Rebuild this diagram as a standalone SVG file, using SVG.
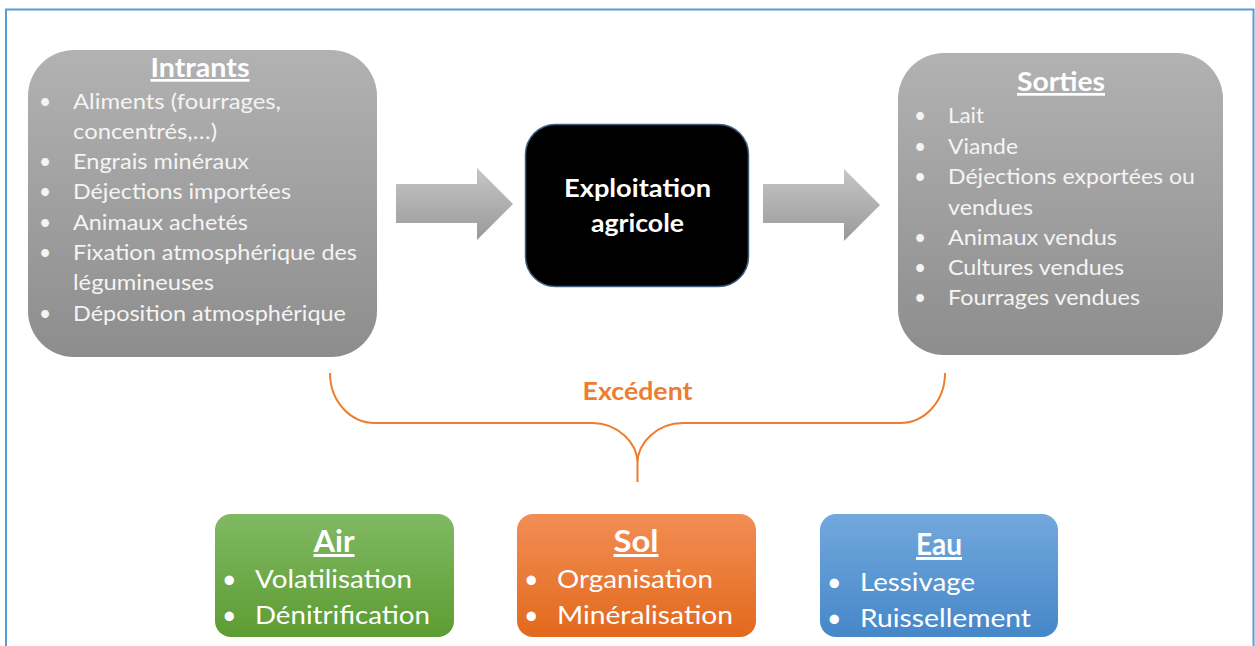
<svg xmlns="http://www.w3.org/2000/svg" width="1255" height="646" viewBox="0 0 1255 646">
<defs>
<linearGradient id="gGray" x1="0" y1="0" x2="0" y2="1"><stop offset="0" stop-color="#b2b2b2"/><stop offset="1" stop-color="#8d8d8d"/></linearGradient>
<linearGradient id="gArrow" x1="0" y1="0" x2="0" y2="1"><stop offset="0" stop-color="#c6c6c6"/><stop offset="1" stop-color="#999999"/></linearGradient>
<linearGradient id="gGreen" x1="0" y1="0" x2="0" y2="1"><stop offset="0" stop-color="#80b963"/><stop offset="1" stop-color="#5d9c32"/></linearGradient>
<linearGradient id="gOrange" x1="0" y1="0" x2="0" y2="1"><stop offset="0" stop-color="#f28e55"/><stop offset="1" stop-color="#e2691c"/></linearGradient>
<linearGradient id="gBlue" x1="0" y1="0" x2="0" y2="1"><stop offset="0" stop-color="#72a8dd"/><stop offset="1" stop-color="#4687c8"/></linearGradient>
<style>
.t{font-family:Lato,"Open Sans","Liberation Sans",sans-serif;fill:#f4f4f4}
.it{font-size:21px}
.ttl{font-size:27px;font-weight:bold;text-decoration:underline;fill:#ffffff}
.bt{font-size:30px;font-weight:bold;text-decoration:underline;fill:#ffffff}
.bi{font-size:25px;fill:#ffffff}
.ctr{font-family:Lato,"Open Sans","Liberation Sans",sans-serif;font-size:25px;font-weight:bold;fill:#ffffff}
.exc{font-family:Lato,"Open Sans","Liberation Sans",sans-serif;font-size:25px;font-weight:bold;fill:#ED7D31}
</style>
</defs>
<rect width="1255" height="646" fill="#ffffff"/>
<rect x="6" y="9.5" width="1247.5" height="700" fill="none" stroke="#5B9BD5" stroke-width="2"/>

<g id="intrants">
<rect x="28" y="50" width="349" height="307" rx="46" fill="url(#gGray)"/>
<text class="t ttl" x="200" y="77" text-anchor="middle" textLength="99" lengthAdjust="spacingAndGlyphs">Intrants</text>
<g class="t it">
<text x="39" y="109">•</text><text x="73" y="109" textLength="208" lengthAdjust="spacingAndGlyphs">Aliments (fourrages,</text>
<text x="73" y="139" textLength="144" lengthAdjust="spacingAndGlyphs">concentrés,…)</text>
<text x="39" y="169">•</text><text x="73" y="169" textLength="176" lengthAdjust="spacingAndGlyphs">Engrais minéraux</text>
<text x="39" y="199">•</text><text x="73" y="199" textLength="218" lengthAdjust="spacingAndGlyphs">Déjections importées</text>
<text x="39" y="230">•</text><text x="73" y="230" textLength="175" lengthAdjust="spacingAndGlyphs">Animaux achetés</text>
<text x="39" y="260">•</text><text x="73" y="260" textLength="284" lengthAdjust="spacingAndGlyphs">Fixation atmosphérique des</text>
<text x="73" y="290" textLength="141" lengthAdjust="spacingAndGlyphs">légumineuses</text>
<text x="39" y="321">•</text><text x="73" y="321" textLength="273" lengthAdjust="spacingAndGlyphs">Déposition atmosphérique</text>
</g>
</g>

<g id="exploitation">
<rect x="525.5" y="124.5" width="223" height="162" rx="30" fill="#000000" stroke="#3e5f80" stroke-width="1.5"/>
<text class="ctr" x="637.5" y="197" text-anchor="middle" textLength="147" lengthAdjust="spacingAndGlyphs">Exploitation</text>
<text class="ctr" x="637.5" y="232" text-anchor="middle" textLength="93" lengthAdjust="spacingAndGlyphs">agricole</text>
</g>

<g id="sorties">
<rect x="898" y="53" width="325" height="302" rx="46" fill="url(#gGray)"/>
<text class="t ttl" x="1061" y="91" text-anchor="middle" textLength="88" lengthAdjust="spacingAndGlyphs">Sorties</text>
<g class="t it">
<text x="914" y="123">•</text><text x="948" y="123" textLength="36" lengthAdjust="spacingAndGlyphs">Lait</text>
<text x="914" y="154">•</text><text x="948" y="154" textLength="70" lengthAdjust="spacingAndGlyphs">Viande</text>
<text x="914" y="184">•</text><text x="948" y="184" textLength="247" lengthAdjust="spacingAndGlyphs">Déjections exportées ou</text>
<text x="948" y="215" textLength="85" lengthAdjust="spacingAndGlyphs">vendues</text>
<text x="914" y="245">•</text><text x="948" y="245" textLength="169" lengthAdjust="spacingAndGlyphs">Animaux vendus</text>
<text x="914" y="275">•</text><text x="948" y="275" textLength="176" lengthAdjust="spacingAndGlyphs">Cultures vendues</text>
<text x="914" y="305">•</text><text x="948" y="305" textLength="192" lengthAdjust="spacingAndGlyphs">Fourrages vendues</text>
</g>
</g>

<g id="connectors">
<path d="M396,184 L477,184 L477,168 L513,204 L477,240 L477,223 L396,223 Z" fill="url(#gArrow)"/>
<path d="M763,184 L844,184 L844,169 L880,205 L844,241 L844,223 L763,223 Z" fill="url(#gArrow)"/>
<path d="M330,373 C330,401 350,423 375,423 L592,423 C618,423 637.5,443 637.5,463 L637.5,482 M637.5,463 C637.5,443 657,423 683,423 L900,423 C925,423 945,401 945,373" fill="none" stroke="#ED7D31" stroke-width="2"/>
<text class="exc" x="637.5" y="400" text-anchor="middle" textLength="110" lengthAdjust="spacingAndGlyphs">Excédent</text>
</g>

<g id="air">
<rect x="215" y="514" width="239" height="123" rx="16" fill="url(#gGreen)"/>
<text class="t bt" x="334" y="552" text-anchor="middle" textLength="41" lengthAdjust="spacingAndGlyphs">Air</text>
<text class="t bi" x="222" y="588">•</text><text class="t bi" x="255" y="588" textLength="157" lengthAdjust="spacingAndGlyphs">Volatilisation</text>
<text class="t bi" x="222" y="624">•</text><text class="t bi" x="255" y="624" textLength="175" lengthAdjust="spacingAndGlyphs">Dénitrification</text>
</g>

<g id="sol">
<rect x="517" y="514" width="239" height="123" rx="16" fill="url(#gOrange)"/>
<text class="t bt" x="636" y="552" text-anchor="middle" textLength="45" lengthAdjust="spacingAndGlyphs">Sol</text>
<text class="t bi" x="524" y="588">•</text><text class="t bi" x="557" y="588" textLength="156" lengthAdjust="spacingAndGlyphs">Organisation</text>
<text class="t bi" x="524" y="624">•</text><text class="t bi" x="557" y="624" textLength="176" lengthAdjust="spacingAndGlyphs">Minéralisation</text>
</g>

<g id="eau">
<rect x="820" y="514" width="238" height="123" rx="16" fill="url(#gBlue)"/>
<text class="t bt" x="939" y="555" text-anchor="middle" textLength="46" lengthAdjust="spacingAndGlyphs">Eau</text>
<text class="t bi" x="827" y="591">•</text><text class="t bi" x="860" y="591" textLength="115" lengthAdjust="spacingAndGlyphs">Lessivage</text>
<text class="t bi" x="827" y="627">•</text><text class="t bi" x="860" y="627" textLength="171" lengthAdjust="spacingAndGlyphs">Ruissellement</text>
</g>
</svg>
